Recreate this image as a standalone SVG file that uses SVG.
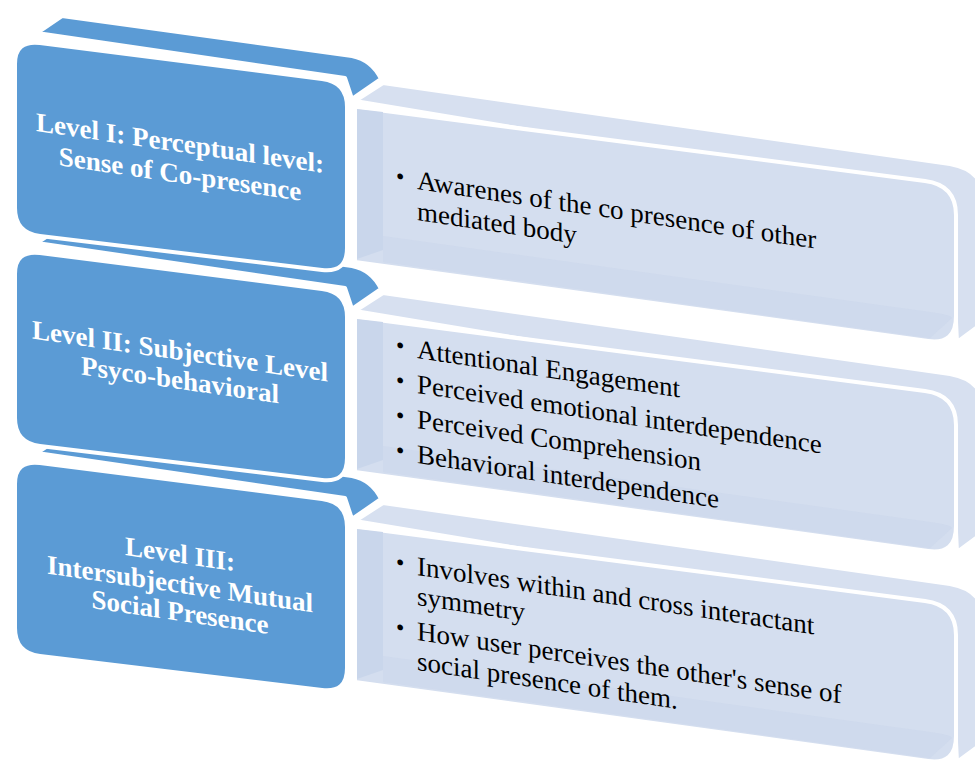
<svg xmlns="http://www.w3.org/2000/svg" xmlns:xlink="http://www.w3.org/1999/xlink" width="975" height="760" viewBox="0 0 975 760">
  <style>
    .blue { fill: #5b9bd5; stroke: #ffffff; stroke-width: 4; stroke-linejoin: round; }
    .grayTop { fill: #d7e0f0; stroke: #ffffff; stroke-width: 4; stroke-linejoin: round; }
    .grayFront { fill: #d4deef; stroke: #ffffff; stroke-width: 4; stroke-linejoin: round; }
    .grayShade { fill: #c9d6eb; stroke: none; }
    .lbl { font-family: "Liberation Serif", "Times New Roman", serif; font-size: 27px; font-weight: bold; fill: #ffffff; text-anchor: middle; }
    .det { font-family: "Liberation Serif", "Times New Roman", serif; font-size: 27px; fill: #000000; }
    .bul { font-family: "Liberation Serif", "Times New Roman", serif; font-size: 24px; fill: #000000; }
  </style>
  <defs>
    <g id="grayBox">
      <path class="grayTop" d="M355,101 L383,83 L950,164 Q984,170 984,200 L984,322 L957,342 L950,200 Z"/>
      <path class="grayFront" d="M355,107 L925,181 Q956,185 956,215 L956,316 Q956,345 928,341 L355,262 Z"/>
      <path class="grayShade" d="M357,109 L383,112 L383,250 L357,259 Z"/>
      <path class="grayShade" opacity="0.5" d="M383,236 L930,312 Q952,315 952,318 L930,338 L383,262 Z"/>
    </g>
    <g id="blueBox">
      <path class="blue" d="M37,33 L62,16 L352,56 Q372,60 381,79 L352,99 L345,78 Z"/>
      <path class="blue" d="M15,64 Q15,40 40,43 L322,79 Q347,82 347,107 L347,248 Q347,273 322,270 L40,236 Q15,233 15,208 Z"/>
    </g>
  </defs>

  <!-- Level III (drawn first, furthest back) -->
  <g id="level3-detail">
    <use xlink:href="#grayBox" href="#grayBox" transform="translate(0,420)"/>
    <g transform="translate(417,575) skewY(8.5)">
      <text class="bul" x="-21" y="-2">•</text>
      <text class="det" x="0" y="0">Involves within and cross interactant</text>
      <text class="det" x="0" y="30">symmetry</text>
      <text class="bul" x="-21" y="63">•</text>
      <text class="det" x="0" y="65">How user perceives the other's sense of</text>
      <text class="det" x="0" y="95">social presence of them.</text>
    </g>
  </g>
  <g id="level3-label">
    <use xlink:href="#blueBox" href="#blueBox" transform="translate(0,420)"/>
    <g transform="translate(180,563) skewY(8.3)">
      <text class="lbl" x="0" y="0">Level III:</text>
      <text class="lbl" x="0" y="30">Intersubjective Mutual</text>
      <text class="lbl" x="0" y="58">Social Presence</text>
    </g>
  </g>

  <!-- Level II -->
  <g id="level2-detail">
    <use xlink:href="#grayBox" href="#grayBox" transform="translate(0,210)"/>
    <g transform="translate(417,358) skewY(8.5)">
      <text class="bul" x="-21" y="-2">•</text>
      <text class="det" x="0" y="0">Attentional Engagement</text>
      <text class="bul" x="-21" y="33">•</text>
      <text class="det" x="0" y="35">Perceived emotional interdependence</text>
      <text class="bul" x="-21" y="68">•</text>
      <text class="det" x="0" y="70">Perceived Comprehension</text>
      <text class="bul" x="-21" y="103">•</text>
      <text class="det" x="0" y="105">Behavioral interdependence</text>
    </g>
  </g>
  <g id="level2-label">
    <use xlink:href="#blueBox" href="#blueBox" transform="translate(0,210)"/>
    <g transform="translate(180,360) skewY(8.3)">
      <text class="lbl" x="0" y="0">Level II: Subjective Level</text>
      <text class="lbl" x="0" y="29">Psyco-behavioral</text>
    </g>
  </g>

  <!-- Level I (front-most) -->
  <g id="level1-detail">
    <use xlink:href="#grayBox" href="#grayBox"/>
    <g transform="translate(417,189) skewY(8.5)">
      <text class="bul" x="-21" y="-2">•</text>
      <text class="det" x="0" y="0">Awarenes of the co presence of other</text>
      <text class="det" x="0" y="31">mediated body</text>
    </g>
  </g>
  <g id="level1-label">
    <use xlink:href="#blueBox" href="#blueBox"/>
    <g transform="translate(180,152) skewY(8.3)">
      <text class="lbl" x="0" y="0">Level I: Perceptual level:</text>
      <text class="lbl" x="0" y="31">Sense of Co-presence</text>
    </g>
  </g>
</svg>
